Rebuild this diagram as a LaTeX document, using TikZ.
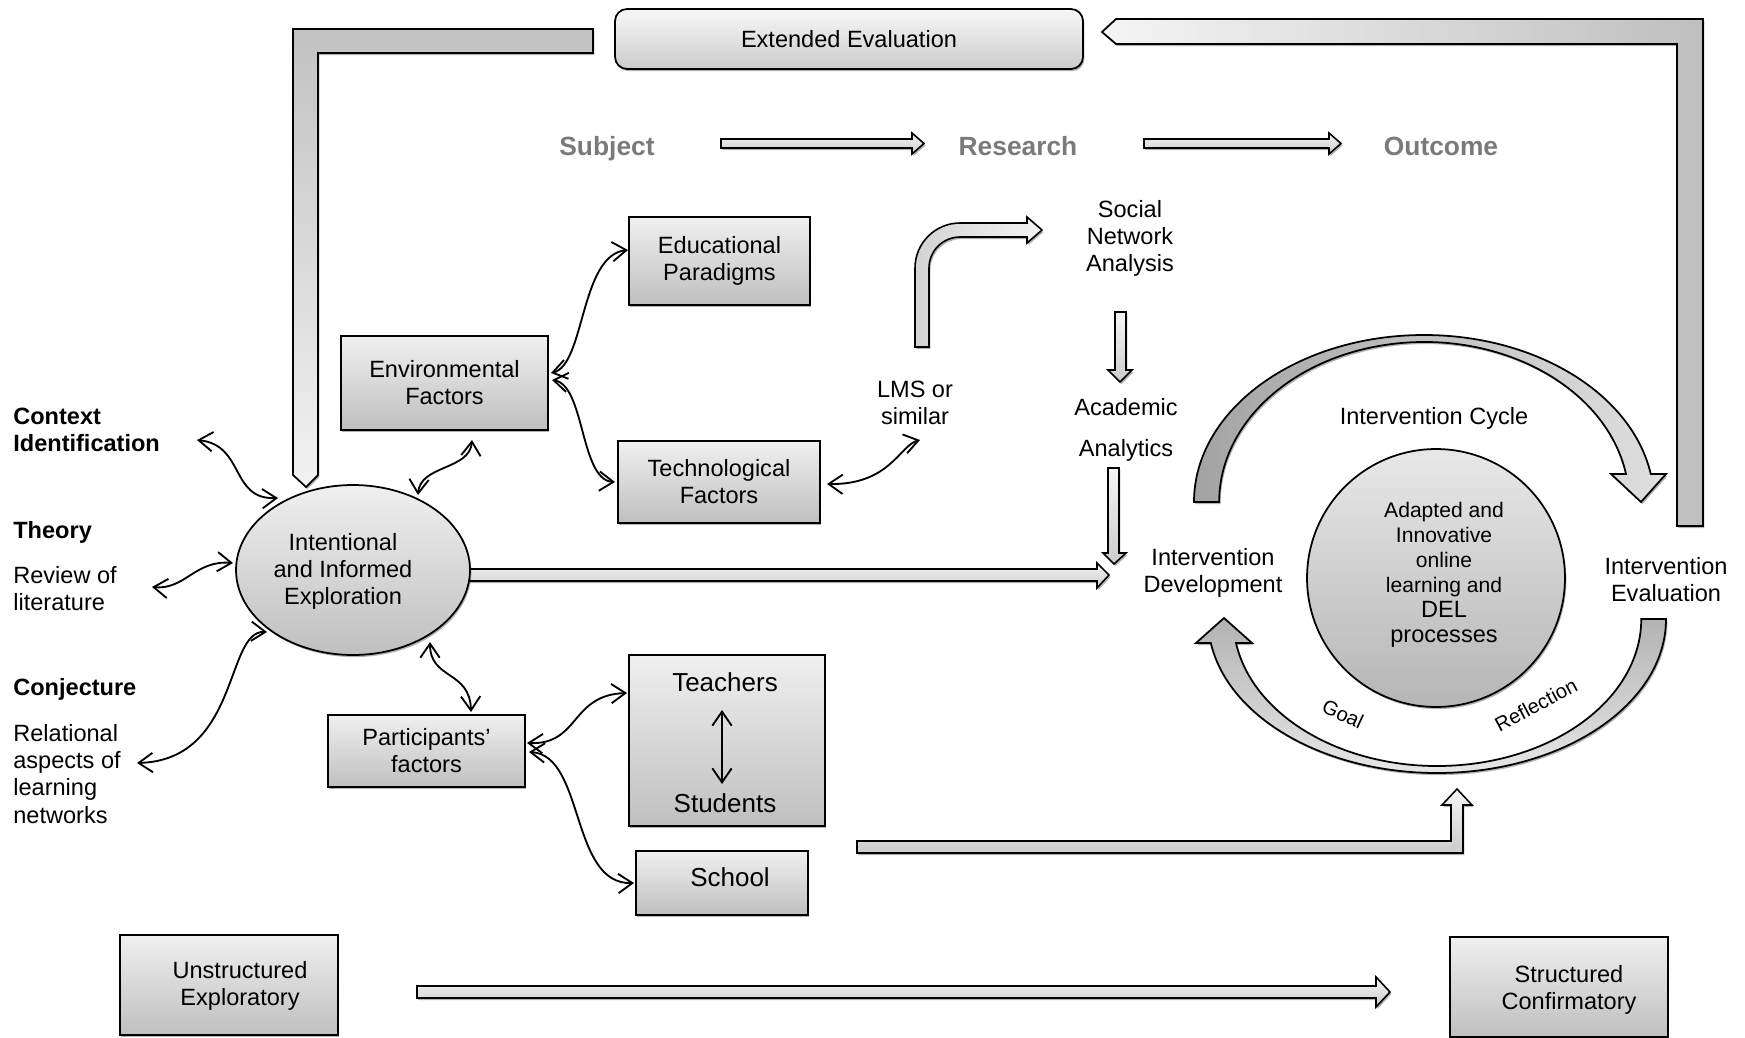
\documentclass[tikz,border=0pt]{standalone}
\usepackage{fontspec}
\setmainfont{Liberation Sans}
\usetikzlibrary{arrows.meta,shapes.geometric,shadows,calc}
\newcommand\fsN{\fontsize{13.4pt}{15.4pt}\selectfont}
\newcommand\fsB{\fontsize{15pt}{17pt}\selectfont}
\newcommand\fsM{\fontsize{14.8pt}{17pt}\selectfont}
\newcommand\fsS{\fontsize{12pt}{14.2pt}\selectfont}
\newcommand\fsT{\fontsize{11.5pt}{13pt}\selectfont}
\begin{document}
\begin{tikzpicture}[x=0.02cm,y=-0.02cm,
  shd/.style={drop shadow={shadow xshift=0.8pt,shadow yshift=-1.2pt,opacity=0.3,fill=black}},
  box/.style={draw,line width=1pt,top color=gray!12,bottom color=gray!50,inner sep=0pt,align=center,font=\fsN,shd},
  txt/.style={inner sep=0pt,align=center,font=\fsN},
  ltxt/.style={inner sep=0pt,align=left,anchor=west,font=\fsN},
  hdr/.style={inner sep=0pt,anchor=base,font=\fsB\bfseries,text=black!52},
  blk/.style={draw,line width=0.9pt,top color=gray!8,bottom color=gray!40,shd},
  band/.style={draw,line width=1pt,shd},
  wavy/.style={line width=1.05pt,{Straight Barb[length=8pt,width=11pt]}-{Straight Barb[length=8pt,width=11pt]}},
]
\useasboundingbox (0,0) rectangle (1745,1038);

% ---- feedback brackets ----
\path[band,top color=gray!48,bottom color=gray!10]
  (593,29) -- (293,29) -- (293,475) -- (306,487) -- (318,475) -- (318,53) -- (593,53) -- cycle;
\path[band,left color=gray!8,right color=gray!50]
  (1102,32) -- (1116,19) -- (1703,19) -- (1703,526) -- (1677,526) -- (1677,44) -- (1116,44) -- cycle;

% ---- block arrows ----
\path[blk] (721,139) -- (912,139) -- (912,133) -- (924,143.5) -- (912,154) -- (912,148) -- (721,148) -- cycle;
\path[blk] (1144,139) -- (1329,139) -- (1329,133) -- (1341,143.5) -- (1329,154) -- (1329,148) -- (1144,148) -- cycle;
\path[blk] (460,569) -- (1097,569) -- (1097,563) -- (1109,575) -- (1097,588) -- (1097,581) -- (460,581) -- cycle;
\path[blk] (1115,312) -- (1126,312) -- (1126,370) -- (1132,370) -- (1120,382) -- (1108,370) -- (1115,370) -- cycle;
\path[blk] (1108,468) -- (1119,468) -- (1119,553) -- (1126,553) -- (1114,564) -- (1103,553) -- (1108,553) -- cycle;
\path[blk] (857,841) -- (1451,841) -- (1451,805) -- (1442,805) -- (1457,789) -- (1472,805) -- (1463,805) -- (1463,853) -- (857,853) -- cycle;
\path[blk] (417,986) -- (1376,986) -- (1376,977) -- (1390,992) -- (1376,1007) -- (1376,998) -- (417,998) -- cycle;
\path[blk,left color=gray!35,right color=gray!8]
  (915,347) -- (915,268) .. controls (915,243.2) and (935.2,223) .. (960,223) -- (1027,223) -- (1027,217) -- (1042,230)
  -- (1027,243) -- (1027,237) -- (960,237) .. controls (942.9,237) and (929,250.9) .. (929,268) -- (929,347) -- cycle;

% ---- intervention cycle arrows ----
\path[band,left color=gray!72,right color=gray!25]
  (1194,502) arc[start angle=180,end angle=350.35,x radius=230,y radius=167]
  -- (1666,474) -- (1641,502) -- (1611,474) -- (1626,474)
  arc[start angle=349.92,end angle=180,x radius=205,y radius=160] -- cycle;
\path[band,top color=gray!60,bottom color=gray!18]
  (1666,619) arc[start angle=0,end angle=171.03,x radius=229,y radius=154]
  -- (1196,643) -- (1224,618) -- (1252,643) -- (1236,643)
  arc[start angle=170.6,end angle=0,x radius=204,y radius=147] -- cycle;

% ---- nodes ----
\node[box,rounded corners=0.24cm,minimum width=9.36cm,minimum height=1.2cm,top color=gray!6,bottom color=gray!40] (ext) at (849,39) {Extended Evaluation};

\node[hdr] (subj) at (607,155) {Subject};
\node[hdr] (res) at (1018,155) {Research};
\node[hdr] (outc) at (1441,155) {Outcome};

\node[box,minimum width=3.62cm,minimum height=1.76cm] (edu) at (719.5,261) {Educational\\Paradigms};
\node[box,minimum width=4.14cm,minimum height=1.88cm] (env) at (444.5,383) {Environmental\\Factors};
\node[box,minimum width=4.04cm,minimum height=1.64cm] (tech) at (719,482) {Technological\\Factors};
\node[txt] (lms) at (915,403) {LMS or\\similar};
\node[txt] (sna) at (1130,238) {Social\\Network\\Analysis};
\node[txt] (acad) at (1126,430) {Academic\\[8pt]Analytics};

\node[draw,ellipse,line width=1pt,top color=gray!12,bottom color=gray!50,minimum width=4.68cm,minimum height=3.4cm,inner sep=0pt,shd] (ell) at (353,570) {};
\node[txt] (elltext) at (343,571) {Intentional\\and Informed\\Exploration};

\node[ltxt,font=\fsN\bfseries] (ctx) at (13,429.5) {Context\\Identification};
\node[ltxt,font=\fsN\bfseries] (thy) at (13,532) {Theory};
\node[ltxt] (rev) at (13,588.5) {Review of\\literature};
\node[ltxt,font=\fsN\bfseries] (conj) at (13,689) {Conjecture};
\node[ltxt] (rel) at (13,774) {Relational\\aspects of\\learning\\networks};

\node[box,minimum width=3.94cm,minimum height=1.44cm] (part) at (426.5,751) {Participants'\\factors};
\node[box,minimum width=3.92cm,minimum height=3.42cm] (ts) at (727,740.5) {};
\node[txt,font=\fsM] (teach) at (725,682) {Teachers};
\node[txt,font=\fsM] (stud) at (725,803) {Students};
\node[box,minimum width=3.44cm,minimum height=1.28cm] (school) at (722,883) {};
\node[txt,font=\fsM] (schooltxt) at (730,877) {School};

\node[box,minimum width=4.36cm,minimum height=2cm] (unstr) at (229,985) {};
\node[txt] (unstrtxt) at (240,985.5) {Unstructured\\Exploratory};
\node[box,minimum width=4.36cm,minimum height=2cm] (struct) at (1559,987) {};
\node[txt] (structtxt) at (1569,989.5) {Structured\\Confirmatory};

\node[draw,circle,line width=1pt,top color=gray!18,bottom color=gray!58,minimum size=5.16cm,inner sep=0pt,shd] (circ) at (1436,578) {};
\node[txt,font=\fsS] (circtxt) at (1444,575) {Adapted and\\Innovative\\online\\learning and\\{\fsN DEL}\\{\fsN processes}};
\node[txt] (cyc) at (1434,418) {Intervention Cycle};
\node[txt] (idev) at (1213,573) {Intervention\\Development};
\node[txt] (ieval) at (1666,580) {Intervention\\Evaluation};
\node[txt,font=\fsT,rotate=-25] (goal) at (1343,714) {Goal};
\node[txt,font=\fsT,rotate=28] (refl) at (1536,705) {Reflection};

% ---- wavy double arrows ----
\coordinate (w1a) at (197,440); \coordinate (w1b) at (278,498);
\coordinate (w2a) at (152,587); \coordinate (w2b) at (233,563);
\coordinate (w3a) at (137,763); \coordinate (w3b) at (267,632);
\coordinate (w4a) at (418,495); \coordinate (w4b) at (472,440);
\coordinate (w5a) at (430,642); \coordinate (w5b) at (471,712);
\coordinate (w6a) at (551,373); \coordinate (w6b) at (628,250);
\coordinate (w7a) at (552,380); \coordinate (w7b) at (615,482);
\coordinate (w8a) at (827,484); \coordinate (w8b) at (920,440);
\coordinate (w9a) at (527,743); \coordinate (w9b) at (627,693);
\coordinate (w10a) at (529,752); \coordinate (w10b) at (634,883);
\coordinate (w11a) at (722,710); \coordinate (w11b) at (722,784);

\draw[wavy] (w1a) .. controls (245,445) and (230,500) .. (w1b);
\draw[wavy] (w2a) .. controls (185,590) and (195,560) .. (w2b);
\draw[wavy] (w3a) .. controls (240,760) and (225,630) .. (w3b);
\draw[wavy] (w4a) .. controls (420,465) and (470,470) .. (w4b);
\draw[wavy] (w5a) .. controls (430,680) and (470,670) .. (w5b);
\draw[wavy] (w6a) .. controls (585,365) and (580,255) .. (w6b);
\draw[wavy] (w7a) .. controls (585,385) and (580,480) .. (w7b);
\draw[wavy] (w8a) .. controls (890,485) and (900,445) .. (w8b);
\draw[wavy] (w9a) .. controls (580,745) and (570,695) .. (w9b);
\draw[wavy] (w10a) .. controls (585,755) and (570,885) .. (w10b);
\draw[wavy] (w11a) -- (w11b);
\end{tikzpicture}
\end{document}
